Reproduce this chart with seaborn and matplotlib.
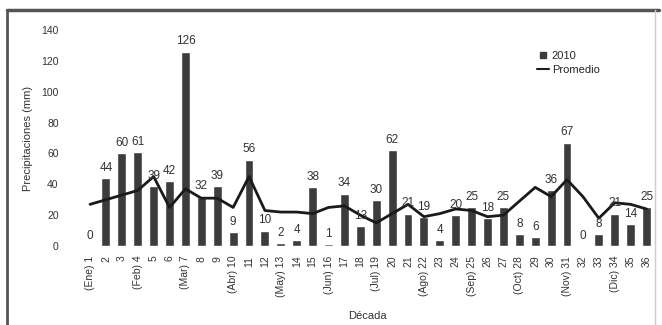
"""Precipitación por década 2010 frente al promedio."""

import matplotlib

matplotlib.use("Agg")
import matplotlib.pyplot as plt
import numpy as np
import pandas as pd
import seaborn as sns
from matplotlib.lines import Line2D

decadas = [
    "(Ene) 1", "2", "3", "(Feb) 4", "5", "6", "(Mar) 7", "8", "9",
    "(Abr) 10", "11", "12", "(May) 13", "14", "15", "(Jun) 16", "17", "18",
    "(Jul) 19", "20", "21", "(Ago) 22", "23", "24", "(Sep) 25", "26", "27",
    "(Oct) 28", "29", "30", "(Nov) 31", "32", "33", "(Dic) 34", "35", "36",
]
lluvia_2010 = [
    0, 44, 60, 61, 39, 42, 126, 32, 39, 9, 56, 10, 2, 4, 38, 1, 34, 13,
    30, 62, 21, 19, 4, 20, 25, 18, 25, 8, 6, 36, 67, 0, 8, 21, 14, 25,
]
promedio = [
    27, 30, 33, 36, 45, 25, 37, 31, 31, 25, 45, 23, 22, 22, 21, 25, 26, 20,
    15, 21, 27, 19, 21, 24, 23, 19, 20, 29, 38, 32, 43, 32, 18, 28, 27, 24,
]

df = pd.DataFrame({"decada": decadas, "lluvia": lluvia_2010, "promedio": promedio})

sns.set_style("white")
plt.rcParams["font.family"] = ["Liberation Sans", "DejaVu Sans"]

fig = plt.figure(figsize=(6.62, 3.25), dpi=100)
ax = fig.add_axes([0.118, 0.243, 0.873, 0.665])

sns.barplot(data=df, x="decada", y="lluvia", color="#3c3c3c", width=0.56,
            saturation=1, ax=ax, label="2010")
ax.bar_label(ax.containers[0], labels=[str(v) for v in lluvia_2010],
             padding=3, fontsize=8.5, color="#333333")
sns.lineplot(x=np.arange(len(decadas)), y=df["promedio"], color="#1a1a1a",
             linewidth=2, ax=ax, label="Promedio")

ax.set_xlim(-0.75, 35.6)
ax.set_ylim(0, 140)
ax.set_yticks(range(0, 141, 20))
ax.tick_params(axis="y", labelsize=7.5, colors="#333333", length=0, pad=14)
ax.tick_params(axis="x", labelsize=7.5, colors="#333333", length=0, pad=7)
ax.set_xticks(range(len(decadas)))
ax.set_xticklabels(decadas, rotation=90)
ax.set_ylabel("Precipitaciones (mm)", fontsize=8, color="#333333", labelpad=6)
ax.set_xlabel("Década", fontsize=8, color="#333333", labelpad=10)
sns.despine(ax=ax, left=True, bottom=True)

handles = [
    Line2D([], [], marker="s", linestyle="none", color="#3c3c3c", markersize=5),
    Line2D([], [], color="#1a1a1a", linewidth=1.5),
]
ax.legend(handles, ["2010", "Promedio"], loc="upper right",
          bbox_to_anchor=(0.92, 0.95), frameon=False, fontsize=8,
          handlelength=1.0, handletextpad=0.3, labelspacing=0.4)

# marco del recorte escaneado
fig.add_artist(Line2D([0.011, 0.995], [0.968, 0.968], color="#555555", linewidth=2.5))
fig.add_artist(Line2D([0.011, 0.011], [0.0, 0.968], color="#555555", linewidth=2))
fig.add_artist(Line2D([0.99, 0.99], [0.0, 0.968], color="#cccccc", linewidth=1))

fig.savefig("out.png", dpi=100)
